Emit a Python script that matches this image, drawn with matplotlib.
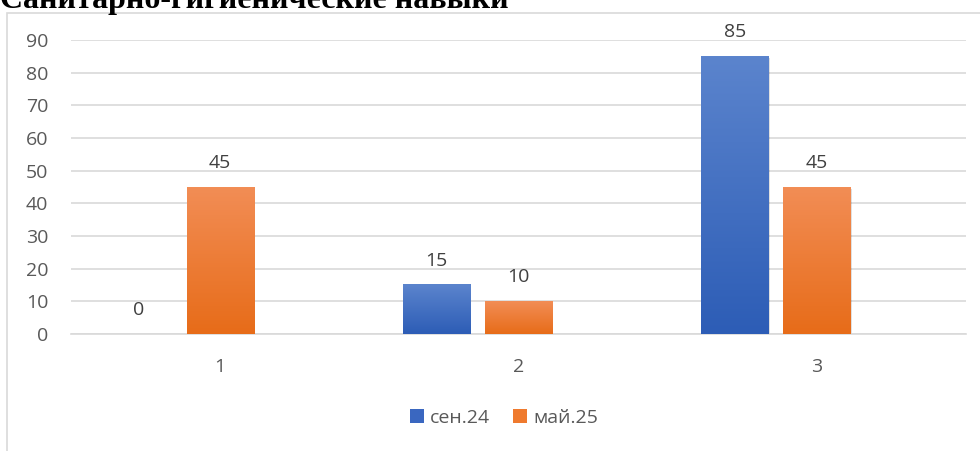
import matplotlib
matplotlib.use("Agg")
import matplotlib.pyplot as plt
import numpy as np
from matplotlib.patches import Rectangle, Patch

categories = ["1", "2", "3"]
series_names = ["сен.24", "май.25"]
sep24 = [0, 15, 85]
may25 = [45, 10, 45]
yticks = [0, 10, 20, 30, 40, 50, 60, 70, 80, 90]
title = "Санитарно-гигиенические навыки"

W, H = 980, 451
fig = plt.figure(figsize=(W / 100, H / 100), dpi=100)

FONT = "Open Sans"
FS = 14

# outer chart frame
fig.patches.append(Rectangle((7 / W, 0 - 0.01), 1.0, (H - 13) / H + 0.01,
                             transform=fig.transFigure, fill=False,
                             edgecolor="#D9D9D9", linewidth=1.2))

fig.text(0 / W, 1 - 8 / H, title, fontsize=23, fontweight="bold",
         family="Liberation Serif", ha="left", va="baseline", color="black")

ax = fig.add_axes([71 / W, 1 - 334 / H, (966 - 71) / W, (334 - 40) / H])
ax.set_xlim(0.5, 3.5)
ax.set_ylim(0, 90)

x = np.arange(1, len(categories) + 1)
bw = 0.225
offs = 0.275

def grad_bar(xc, h, top, bot):
    if h <= 0:
        return
    cmap = matplotlib.colors.LinearSegmentedColormap.from_list("g", [bot, top])
    grad = np.linspace(0, 1, 100).reshape(-1, 1)
    ax.add_patch(Rectangle((xc - bw / 2 + 0.004, -0.6), bw, h, facecolor="#000000",
                           alpha=0.12, zorder=2, linewidth=0))
    ax.imshow(grad, extent=[xc - bw / 2, xc + bw / 2, 0, h], origin="lower",
              aspect="auto", cmap=cmap, zorder=3)

for xi, v in zip(x, sep24):
    grad_bar(xi - offs, v, "#5B84CD", "#2D5DB6")
for xi, v in zip(x, may25):
    grad_bar(xi, v, "#F28D55", "#E76C19")

for xs, vals in ((x - offs, sep24), (x, may25)):
    for xi, v in zip(xs, vals):
        ax.annotate(str(v), (xi, v), xytext=(0, 19), textcoords="offset pixels",
                    ha="center", va="baseline", family=FONT, fontsize=FS,
                    color="#404040")

ax.set_xlim(0.5, 3.5)
ax.set_ylim(0, 90)
ax.set_yticks(yticks)
ax.set_xticks(x)
ax.set_xticklabels(categories)
ax.yaxis.grid(True, color="#D9D9D9", linewidth=1.2)
ax.set_axisbelow(True)
for s in ["top", "right", "left"]:
    ax.spines[s].set_visible(False)
ax.spines["bottom"].set_color("#D9D9D9")
ax.spines["bottom"].set_linewidth(1.2)
ax.tick_params(axis="both", length=0, labelcolor="#595959", labelsize=FS)
for t in ax.get_xticklabels() + ax.get_yticklabels():
    t.set_family(FONT)
ax.tick_params(axis="y", pad=16.5)
ax.tick_params(axis="x", pad=17)

handles = [Patch(facecolor="#3A67C0", edgecolor="none"),
           Patch(facecolor="#EF7A2E", edgecolor="none")]
leg = fig.legend(handles, series_names, loc="center", bbox_to_anchor=(504 / W, 1 - 418 / H),
                 ncol=2, frameon=False, handlelength=0.72, handleheight=0.72,
                 handletextpad=0.3, columnspacing=1.2,
                 prop=dict(family=FONT, size=FS))
for t in leg.get_texts():
    t.set_color("#595959")

fig.savefig("out.png", dpi=100)
